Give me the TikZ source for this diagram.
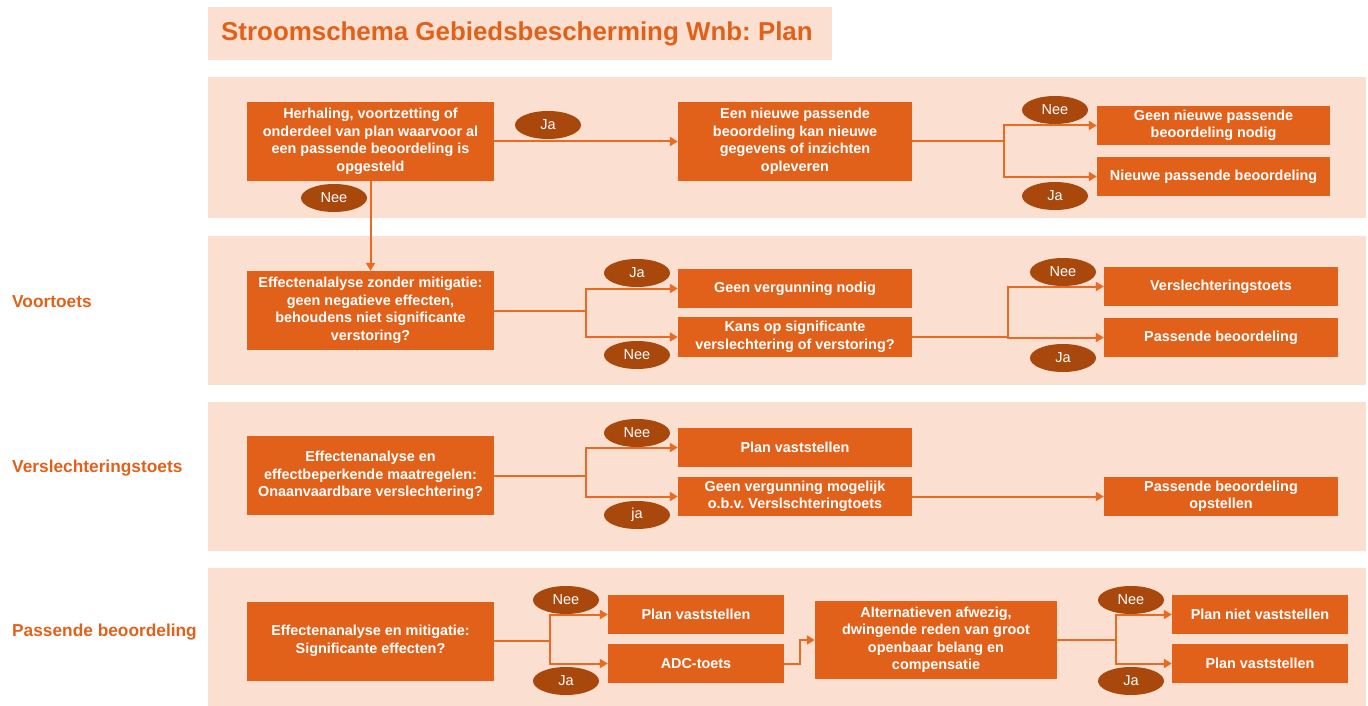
\documentclass[tikz,border=0pt]{standalone}
\usepackage{fontspec}
\setmainfont{Liberation Sans}
\usetikzlibrary{arrows.meta,shapes.geometric}
\definecolor{boxorange}{HTML}{E2611A}
\definecolor{ovalbrown}{HTML}{A8480D}
\definecolor{bandpeach}{HTML}{FBDFD0}
\definecolor{lineorange}{HTML}{E96A22}
\frenchspacing
\begin{document}
\begin{tikzpicture}[x=1pt,y=-1pt,
  band/.style={fill=bandpeach},
  box/.style={fill=boxorange, text=white, font=\bfseries\fontsize{14.4}{17.5}\selectfont, align=center, inner sep=0pt},
  bigbox/.style={box, minimum width=247, minimum height=79},
  midbox/.style={box, minimum width=234, minimum height=39},
  smallbox/.style={box, minimum width=176, minimum height=39},
  oval/.style={ellipse, fill=ovalbrown, text=white, font=\fontsize{14.5}{17}\selectfont, minimum width=66, minimum height=28, inner sep=0pt},
  conn/.style={draw=lineorange, line width=2pt, -{Triangle[length=8pt,width=9pt]}},
  side/.style={text=boxorange, font=\bfseries\fontsize{17.3}{20}\selectfont, anchor=west, inner sep=0pt}]
\useasboundingbox (0,0) rectangle (1368,706);

% bands
\fill[band] (208,7) rectangle (832,60);
\fill[band] (208,77) rectangle (1366,218);
\fill[band] (208,236) rectangle (1366,385);
\fill[band] (208,402) rectangle (1366,551);
\fill[band] (208,568) rectangle (1366,706);

\node[anchor=west, inner sep=0pt, text=boxorange, font=\bfseries\fontsize{25.9}{30}\selectfont] (title) at (221,34) {Stroomschema Gebiedsbescherming Wnb: Plan};

\node[side] (voortoets) at (12,302) {Voortoets};
\node[side] (verslechtering) at (12,468) {Verslechteringstoets};
\node[side] (passend) at (12,632) {Passende beoordeling};

% nodes
\node[bigbox] (A1) at (370.5,141.5) {Herhaling, voortzetting of\\onderdeel van plan waarvoor al\\een passende beoordeling is\\opgesteld};
\node[box, minimum width=234, minimum height=79] (A2) at (795,141.5) {Een nieuwe passende\\beoordeling kan nieuwe\\gegevens of inzichten\\opleveren};
\node[box, minimum width=233, minimum height=39] (A3) at (1213.5,125.5) {Geen nieuwe passende\\beoordeling nodig};
\node[box, minimum width=233, minimum height=39] (A4) at (1213.5,176.5) {Nieuwe passende beoordeling};

\node[bigbox] (B1) at (370.5,310.5) {Effectenalalyse zonder mitigatie:\\geen negatieve effecten,\\behoudens niet significante\\verstoring?};
\node[midbox] (B2) at (795,288.5) {Geen vergunning nodig};
\node[midbox, minimum height=40] (B3) at (795,337) {Kans op significante\\verslechtering of verstoring?};
\node[midbox] (B4) at (1221,286.5) {Verslechteringstoets};
\node[midbox] (B5) at (1221,337.5) {Passende beoordeling};

\node[bigbox] (C1) at (370.5,475.5) {Effectenanalyse en\\effectbeperkende maatregelen:\\Onaanvaardbare verslechtering?};
\node[midbox] (C2) at (795,447.5) {Plan vaststellen};
\node[midbox] (C3) at (795,496.5) {Geen vergunning mogelijk\\o.b.v. Verslschteringtoets};
\node[midbox] (C4) at (1221,496.5) {Passende beoordeling\\opstellen};

\node[bigbox] (D1) at (370.5,641) {Effectenanalyse en mitigatie:\\Significante effecten?};
\node[smallbox] (D2) at (696,614.5) {Plan vaststellen};
\node[smallbox] (D3) at (696,663.5) {ADC-toets};
\node[box, minimum width=242, minimum height=78] (D4) at (936,640) {Alternatieven afwezig,\\dwingende reden van groot\\openbaar belang en\\compensatie};
\node[smallbox] (D5) at (1260,614.5) {Plan niet vaststellen};
\node[smallbox] (D6) at (1260,663.5) {Plan vaststellen};

% connectors
\draw[conn] (A1.east) -- (A2.west);
\draw[conn] (A2.east) -- ++(92,0) |- (A3.west);
\draw[conn] (A2.east) -- ++(92,0) |- (A4.west);
\draw[conn] (A1.south) -- (B1.north);

\draw[conn] (B1.east) -- ++(92,0) |- (B2.west);
\draw[conn] (B1.east) -- ++(92,0) |- (B3.west);
\draw[conn] (B3.east) -- ++(96,0) |- (B4.west);
\draw[conn] (B3.east) -- ++(96,0) |- (B5.west);

\draw[conn] (C1.east) -- ++(92,0) |- (C2.west);
\draw[conn] (C1.east) -- ++(92,0) |- (C3.west);
\draw[conn] (C3.east) -- (C4.west);

\draw[conn] (D1.east) -- ++(56,0) |- (D2.west);
\draw[conn] (D1.east) -- ++(56,0) |- (D3.west);
\draw[conn] (D3.east) -- ++(16,0) |- (D4.west);
\draw[conn] (D4.east) -- ++(59,0) |- (D5.west);
\draw[conn] (D4.east) -- ++(59,0) |- (D6.west);

% labels
\node[oval] (jaA) at (548,125) {Ja};
\node[oval] (neeA) at (334,198) {Nee};
\node[oval] (neeA2) at (1055,110) {Nee};
\node[oval] (jaA2) at (1055,196) {Ja};

\node[oval] (jaB) at (637,273) {Ja};
\node[oval] (neeB) at (637,355) {Nee};
\node[oval] (neeB2) at (1063,272) {Nee};
\node[oval] (jaB2) at (1063,358) {Ja};

\node[oval] (neeC) at (637,433) {Nee};
\node[oval] (jaC) at (637,515) {ja};

\node[oval] (neeD) at (566,600) {Nee};
\node[oval] (jaD) at (566,681) {Ja};
\node[oval] (neeD2) at (1131,600) {Nee};
\node[oval] (jaD2) at (1131,681) {Ja};

\end{tikzpicture}
\end{document}
